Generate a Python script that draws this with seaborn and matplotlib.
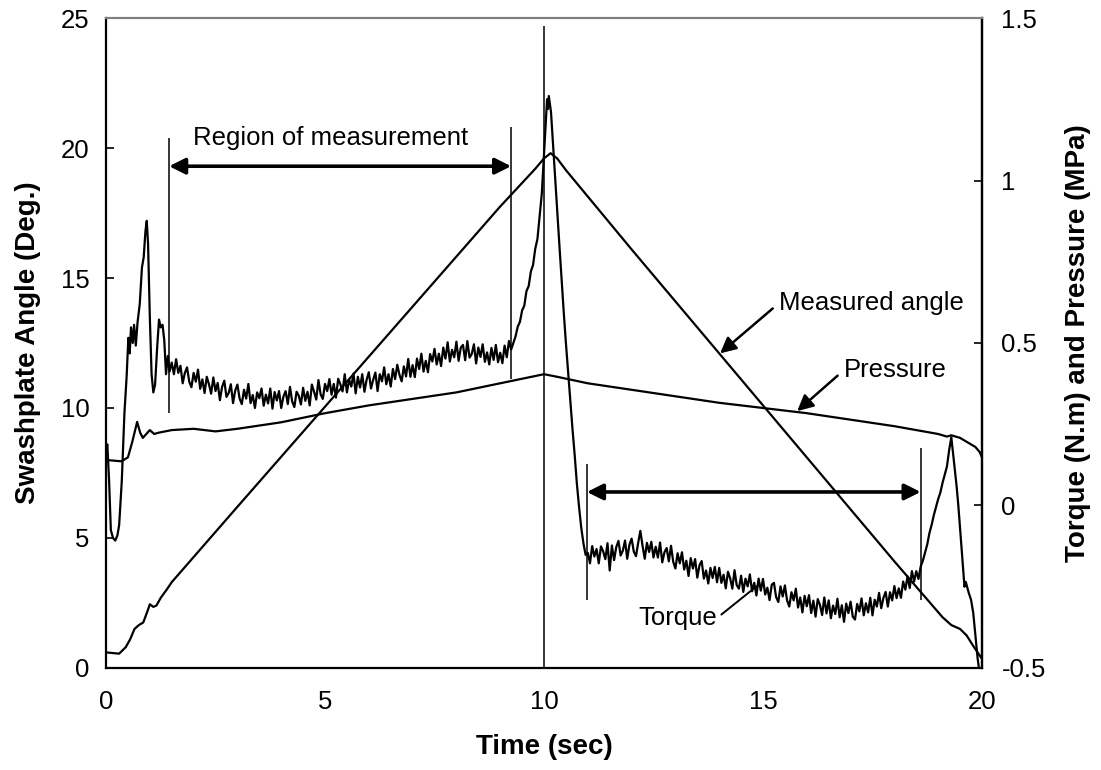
import matplotlib
matplotlib.use("Agg")
import matplotlib.pyplot as plt
import pandas as pd
import seaborn as sns

# ---------------------------------------------------------------- data
# Measured swashplate angle (deg)
angle_t = [0.0, 0.3, 0.45, 0.55, 0.65, 0.75, 0.85, 0.95, 1.0, 1.08, 1.15, 1.25,
           1.4, 1.5, 3.0, 5.0, 7.0, 9.0, 9.8, 10.0, 10.15, 10.3, 10.5, 12.0,
           14.0, 16.0, 18.0, 19.1, 19.3, 19.5, 19.65, 19.8, 20.0]
angle_deg = [0.6, 0.55, 0.8, 1.1, 1.5, 1.65, 1.75, 2.2, 2.45, 2.35, 2.4, 2.7,
             3.05, 3.3, 6.2, 10.05, 13.9, 17.75, 19.2, 19.6, 19.8, 19.6, 19.15, 16.1,
             12.1, 8.1, 4.1, 1.95, 1.65, 1.5, 1.25, 0.85, 0.35]

# Supply pressure (MPa)
pressure_t = [0.0, 0.35, 0.5, 0.6, 0.71, 0.78, 0.84, 0.92, 1.0, 1.1, 1.2, 1.5,
              2.0, 2.5, 3.0, 4.0, 5.0, 6.0, 7.0, 8.0, 9.0, 10.0, 10.3, 11.0,
              12.0, 13.0, 14.0, 15.0, 16.0, 17.0, 18.0, 19.0, 19.2, 19.3, 19.5,
              19.7, 19.85, 19.95, 20.0]
pressure_mpa = [0.14, 0.136, 0.148, 0.196, 0.257, 0.224, 0.208, 0.22, 0.232, 0.22,
                0.224, 0.232, 0.236, 0.228, 0.236, 0.256, 0.284, 0.308, 0.328, 0.348,
                0.376, 0.404, 0.396, 0.376, 0.356, 0.336, 0.316, 0.30, 0.284, 0.264,
                0.244, 0.22, 0.212, 0.216, 0.208, 0.192, 0.18, 0.164, 0.148]

# Shaft torque (N.m): start-up transient
torque_start_t = [0.00, 0.03, 0.07, 0.11, 0.16, 0.21, 0.26, 0.30, 0.36, 0.42, 0.47,
                  0.51, 0.54, 0.57, 0.61, 0.64, 0.68, 0.72, 0.77, 0.82, 0.86, 0.90,
                  0.93, 0.96, 1.00, 1.04, 1.08, 1.12, 1.17, 1.21, 1.25, 1.29, 1.33,
                  1.37, 1.41, 1.45]
torque_start = [0.172, 0.188, 0.076, -0.076, -0.10, -0.108, -0.092, -0.06, 0.076, 0.284,
                0.396, 0.516, 0.468, 0.548, 0.50, 0.556, 0.492, 0.564, 0.62, 0.732,
                0.764, 0.844, 0.876, 0.804, 0.58, 0.404, 0.348, 0.372, 0.492, 0.572,
                0.548, 0.556, 0.508, 0.404, 0.46, 0.412]

# Torque while the angle increases, sampled every 0.05 s from 1.50 s to 9.20 s
torque_up_t0, torque_dt = 1.50, 0.05
torque_up = [
    0.440, 0.404, 0.450, 0.408, 0.430, 0.376, 0.408, 0.425, 0.381, 0.364,
    0.408, 0.381, 0.418, 0.359, 0.388, 0.346, 0.396, 0.373, 0.344, 0.394,
    0.352, 0.377, 0.324, 0.365, 0.384, 0.334, 0.346, 0.373, 0.315, 0.354,
    0.372, 0.329, 0.312, 0.356, 0.329, 0.374, 0.315, 0.340, 0.300, 0.348,
    0.330, 0.360, 0.307, 0.341, 0.314, 0.360, 0.298, 0.349, 0.323, 0.352,
    0.300, 0.335, 0.352, 0.312, 0.365, 0.320, 0.303, 0.350, 0.338, 0.311,
    0.362, 0.322, 0.350, 0.308, 0.372, 0.350, 0.326, 0.386, 0.342, 0.328,
    0.374, 0.352, 0.389, 0.341, 0.374, 0.332, 0.390, 0.373, 0.351, 0.404,
    0.348, 0.387, 0.366, 0.406, 0.345, 0.396, 0.363, 0.404, 0.350, 0.387,
    0.410, 0.360, 0.387, 0.409, 0.352, 0.404, 0.382, 0.425, 0.373, 0.404,
    0.366, 0.420, 0.389, 0.433, 0.402, 0.382, 0.428, 0.397, 0.451, 0.396,
    0.432, 0.395, 0.452, 0.420, 0.467, 0.412, 0.445, 0.410, 0.466, 0.443,
    0.482, 0.434, 0.467, 0.429, 0.486, 0.452, 0.502, 0.443, 0.479, 0.456,
    0.504, 0.445, 0.486, 0.494, 0.447, 0.506, 0.455, 0.466, 0.496, 0.437,
    0.486, 0.457, 0.496, 0.442, 0.471, 0.434, 0.485, 0.448, 0.494, 0.441,
    0.470, 0.438, 0.492, 0.456, 0.506]

# Torque spike around the reversal at 10 s
torque_peak_t = [9.25, 9.30, 9.35, 9.40, 9.45, 9.50, 9.55, 9.60, 9.65, 9.70, 9.75,
                 9.80, 9.85, 9.90, 9.95, 10.00, 10.04, 10.07, 10.09, 10.11, 10.13,
                 10.16, 10.20, 10.25, 10.30, 10.35, 10.40, 10.45, 10.50, 10.55,
                 10.60, 10.65, 10.70, 10.75, 10.80, 10.85, 10.90, 10.95]
torque_peak = [0.48, 0.50, 0.52, 0.55, 0.565, 0.60, 0.615, 0.66, 0.675, 0.72, 0.74,
               0.79, 0.82, 0.89, 0.96, 1.08, 1.17, 1.25, 1.22, 1.26, 1.24,
               1.21, 1.124, 1.02, 0.908, 0.804, 0.70, 0.596, 0.50, 0.412,
               0.324, 0.236, 0.156, 0.068, -0.004, -0.068, -0.116, -0.152]

# Torque while the angle decreases, sampled every 0.05 s from 11.00 s to 18.60 s
torque_down_t0 = 11.00
torque_down = [
    -0.146, -0.178, -0.125, -0.157, -0.134, -0.178, -0.126, -0.141, -0.165, -0.116,
    -0.200, -0.123, -0.168, -0.128, -0.109, -0.154, -0.139, -0.108, -0.164, -0.121,
    -0.102, -0.142, -0.156, -0.115, -0.078, -0.124, -0.164, -0.115, -0.143, -0.112,
    -0.160, -0.127, -0.160, -0.114, -0.175, -0.144, -0.131, -0.172, -0.124, -0.173,
    -0.194, -0.147, -0.178, -0.144, -0.197, -0.170, -0.217, -0.162, -0.194, -0.165,
    -0.222, -0.184, -0.171, -0.225, -0.200, -0.240, -0.192, -0.223, -0.189, -0.236,
    -0.192, -0.238, -0.213, -0.255, -0.204, -0.224, -0.256, -0.199, -0.245, -0.256,
    -0.216, -0.266, -0.225, -0.249, -0.212, -0.264, -0.238, -0.277, -0.225, -0.262,
    -0.226, -0.274, -0.253, -0.291, -0.244, -0.238, -0.282, -0.297, -0.249, -0.280,
    -0.246, -0.292, -0.311, -0.267, -0.292, -0.256, -0.314, -0.283, -0.329, -0.278,
    -0.310, -0.276, -0.331, -0.293, -0.342, -0.288, -0.306, -0.337, -0.283, -0.332,
    -0.292, -0.347, -0.308, -0.334, -0.287, -0.344, -0.307, -0.358, -0.302, -0.331,
    -0.296, -0.342, -0.351, -0.303, -0.326, -0.286, -0.338, -0.301, -0.329, -0.284,
    -0.338, -0.290, -0.311, -0.269, -0.316, -0.284, -0.266, -0.311, -0.267, -0.292,
    -0.248, -0.285, -0.255, -0.284, -0.234, -0.259, -0.218, -0.254, -0.202, -0.234,
    -0.202, -0.226, -0.188]

# Torque spike at the end of the run
torque_end_t = [18.65, 18.70, 18.75, 18.80, 18.85, 18.90, 18.95, 19.00, 19.05,
                19.10, 19.15, 19.20, 19.25, 19.30, 19.34, 19.38, 19.42, 19.46,
                19.50, 19.55, 19.60, 19.63, 19.66, 19.70, 19.75, 19.80, 19.85,
                19.90, 19.93]
torque_end = [-0.17, -0.145, -0.12, -0.085, -0.06, -0.03, -0.005, 0.02, 0.04,
              0.07, 0.095, 0.12, 0.17, 0.21, 0.16, 0.11, 0.06, 0.0,
              -0.07, -0.16, -0.25, -0.235, -0.25, -0.27, -0.29, -0.33, -0.40,
              -0.47, -0.50]

# Measurement windows (s)
window_up = (1.44, 9.25)
window_down = (10.98, 18.6)
reversal_t = 10.0

# ---------------------------------------------------------------- frames
torque_t = (torque_start_t
            + [round(torque_up_t0 + i * torque_dt, 2) for i in range(len(torque_up))]
            + torque_peak_t
            + [round(torque_down_t0 + i * torque_dt, 2) for i in range(len(torque_down))]
            + torque_end_t)
torque_val = torque_start + torque_up + torque_peak + torque_down + torque_end

df_angle = pd.DataFrame({"t": angle_t, "v": angle_deg})
df_press = pd.DataFrame({"t": pressure_t, "v": pressure_mpa})
df_torque = pd.DataFrame({"t": torque_t, "v": torque_val})

# ---------------------------------------------------------------- style
sns.set_theme(style="white")
plt.rcParams["font.family"] = ["Liberation Sans", "DejaVu Sans"]
plt.rcParams.update({
    "text.color": "black",
    "axes.labelcolor": "black",
    "xtick.color": "black",
    "ytick.color": "black",
    "axes.edgecolor": "black",
})

FS = 18.5
fig = plt.figure(figsize=(11.01, 7.7), dpi=100)
ax = fig.add_axes([0.0963, 0.1325, 0.7956, 0.8441])
ax2 = ax.twinx()

line_kw = dict(color="black", linewidth=1.6, estimator=None, sort=False, legend=False)
sns.lineplot(data=df_angle, x="t", y="v", ax=ax, **line_kw)
sns.lineplot(data=df_press, x="t", y="v", ax=ax2, **line_kw)
sns.lineplot(data=df_torque, x="t", y="v", ax=ax2, **line_kw)

ax.set_xlim(0, 20)
ax.set_ylim(0, 25)
ax2.set_ylim(-0.5, 1.5)
ax.set_xticks([0, 5, 10, 15, 20])
ax.set_yticks([0, 5, 10, 15, 20, 25])
ax2.set_yticks([-0.5, 0, 0.5, 1, 1.5])
ax2.set_yticklabels(["-0.5", "0", "0.5", "1", "1.5"])

ax.tick_params(axis="both", direction="in", length=6, width=1.2, labelsize=FS,
               colors="black")
ax.tick_params(axis="y", pad=12)
ax.tick_params(axis="x", pad=16)
ax2.tick_params(axis="y", direction="in", length=6, width=1.2, labelsize=FS,
                colors="black", pad=14)

ax.set_xlabel("Time (sec)", fontsize=20, fontweight="bold", labelpad=14, color="black")
ax.set_ylabel("Swashplate Angle (Deg.)", fontsize=20, fontweight="bold", labelpad=14,
              color="black")
ax2.set_ylabel("Torque (N.m) and Pressure (MPa)", fontsize=20, fontweight="bold",
               labelpad=14, color="black")

for a in (ax, ax2):
    for s in ("left", "bottom", "right"):
        a.spines[s].set_color("black")
        a.spines[s].set_linewidth(1.6)
    a.spines["top"].set_color("#808080")
    a.spines["top"].set_linewidth(1.5)
ax2.spines["left"].set_visible(False)
ax2.spines["bottom"].set_visible(False)
ax.grid(False)
ax2.grid(False)

# ---------------------------------------------------------------- annotations
thin = dict(color="black", linewidth=1.1)
ax.vlines(reversal_t, 0, 24.7, **thin)
ax.vlines(window_up[0], 9.8, 20.4, **thin)
ax.vlines(window_up[1], 11.1, 20.8, **thin)
ax.vlines(window_down[0], 2.6, 7.85, **thin)
ax.vlines(window_down[1], 2.6, 8.45, **thin)

span = dict(arrowstyle="<|-|>", color="black", lw=2.6, mutation_scale=24,
            shrinkA=0, shrinkB=0)
ax.annotate("", xy=(window_up[0], 19.3), xytext=(window_up[1], 19.3), arrowprops=span)
ax.annotate("", xy=(window_down[0], 6.77), xytext=(window_down[1], 6.77),
            arrowprops=span)
ax.text(1.99, 20.4, "Region of measurement", fontsize=FS, ha="left", va="center",
        color="black")

pointer = dict(arrowstyle="-|>", color="black", lw=1.8, mutation_scale=24,
               shrinkA=3, shrinkB=0, relpos=(0, 0.5))
ax.annotate("Measured angle", xy=(14.02, 12.1), xytext=(15.37, 14.04),
            fontsize=FS, ha="left", va="center", color="black", arrowprops=pointer)
ax.annotate("Pressure", xy=(15.78, 9.88), xytext=(16.85, 11.46),
            fontsize=FS, ha="left", va="center", color="black", arrowprops=pointer)
ax.annotate("Torque", xy=(14.86, 3.15), xytext=(13.95, 1.92),
            fontsize=FS, ha="right", va="center", color="black",
            arrowprops=dict(arrowstyle="-", color="black", lw=1.4,
                            shrinkA=1, shrinkB=0, relpos=(1, 0.5)))

fig.savefig("out.png", dpi=100)
